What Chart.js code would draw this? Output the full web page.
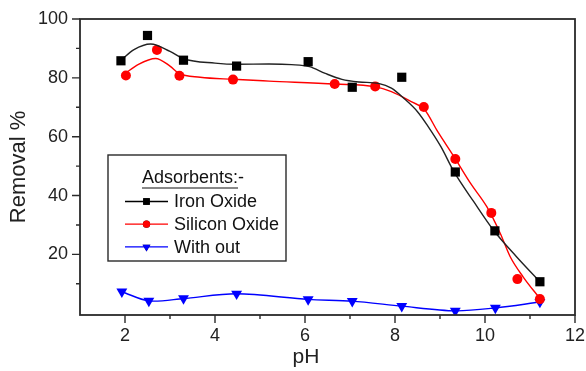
<!DOCTYPE html>
<html>
<head>
<meta charset="utf-8">
<script src="https://cdn.jsdelivr.net/npm/chart.js@4/dist/chart.umd.min.js"></script>
<style>
  html, body { margin: 0; padding: 0; background: #fff; }
  #wrap { width: 586px; height: 371px; }
</style>
</head>
<body>
<div id="wrap"><canvas id="removalChart"></canvas></div>
<script>
// measured points
const ironPH = [1.91, 2.5, 3.3, 4.48, 6.07, 7.05, 8.15, 9.34, 10.22, 11.22]
const ironRemoval = [85.8, 94.4, 86.0, 84.0, 85.5, 76.8, 80.2, 48.0, 28.0, 10.7]

const siliconPH = [2.02, 2.71, 3.21, 4.4, 6.66, 7.56, 8.64, 9.34, 10.14, 10.72, 11.22]
const siliconRemoval = [80.8, 89.5, 80.7, 79.4, 77.9, 77.1, 70.1, 52.4, 34.1, 11.6, 4.8]

const withoutPH = [1.93, 2.53, 3.3, 4.48, 6.07, 7.05, 8.15, 9.34, 10.23, 11.22]
const withoutRemoval = [7.3, 4.2, 5.0, 6.6, 4.7, 4.1, 2.4, 0.8, 1.8, 3.8]

// smoothed fit curves
const ironFitPH = [1.91, 2.2, 2.57, 3.0, 3.3, 4.0, 4.5, 5.2, 5.7, 6.1, 6.45, 6.82, 7.2, 7.63, 7.92, 8.2, 8.5, 8.73, 9.02, 9.31, 9.75, 10.19, 10.7, 11.22]
const ironFitRemoval = [86.0, 89.6, 91.5, 89.0, 86.5, 85.0, 84.6, 84.7, 84.5, 83.8, 81.5, 79.5, 78.6, 78.1, 76.5, 73.0, 68.5, 63.6, 56.6, 48.1, 37.9, 28.2, 19.2, 10.7]

const siliconFitPH = [1.98, 2.3, 2.68, 3.0, 3.2, 3.67, 4.4, 5.2, 6.67, 7.55, 7.92, 8.36, 8.65, 8.95, 9.31, 9.68, 10.04, 10.34, 10.56, 10.85, 11.22]
const siliconFitRemoval = [81.2, 84.6, 86.6, 84.0, 81.5, 80.2, 79.5, 78.9, 77.9, 77.0, 75.3, 71.9, 69.3, 61.7, 53.2, 44.1, 36.2, 27.1, 19.2, 12.3, 5.0]

const xTicks = [2, 3, 4, 5, 6, 7, 8, 9, 10, 11, 12]
const yTicks = [10, 20, 30, 40, 50, 60, 70, 80, 90, 100]

const xTitle = 'pH'
const legendTitle = 'Adsorbents:-'
const legendNames = ['Iron Oxide', 'Silicon Oxide', 'With out']

const toXY = (xs, ys) => xs.map((x, i) => ({ x, y: ys[i] }))

const FONT = 'Arial, "Liberation Sans", sans-serif'

// box round the plot plus outside tick marks (long major, short minor)
const frame = {
    id: 'frame',
    afterDraw(chart) {
        const { ctx, chartArea: a, scales } = chart
        ctx.save()
        ctx.strokeStyle = '#2a2a2a'
        ctx.lineWidth = 1.8
        ctx.strokeRect(a.left, a.top, a.right - a.left, a.bottom - a.top)

        ctx.lineWidth = 1.4
        ctx.beginPath()
        xTicks.forEach(v => {
            const px = scales.x.getPixelForValue(v)
            const len = v % 2 === 0 ? 8 : 4
            ctx.moveTo(px, a.bottom)
            ctx.lineTo(px, a.bottom + len)
        })
        yTicks.forEach(v => {
            const py = scales.y.getPixelForValue(v)
            const len = v % 20 === 0 ? 8 : 4
            ctx.moveTo(a.left, py)
            ctx.lineTo(a.left - len, py)
        })
        ctx.stroke()

        // x title sits a bit left of centre in the original
        ctx.fillStyle = '#222'
        ctx.font = '21px ' + FONT
        ctx.textAlign = 'center'
        ctx.textBaseline = 'middle'
        ctx.fillText(xTitle, 306, 357)
        ctx.restore()
    }
}

const boxLegend = {
    id: 'boxLegend',
    afterDraw(chart) {
        const ctx = chart.ctx
        const bx = 108, by = 155, bw = 178, bh = 106
        ctx.save()
        ctx.fillStyle = '#fff'
        ctx.fillRect(bx, by, bw, bh)
        ctx.strokeStyle = '#2a2a2a'
        ctx.lineWidth = 1.4
        ctx.strokeRect(bx, by, bw, bh)

        ctx.fillStyle = '#111'
        ctx.font = '18px ' + FONT
        ctx.textBaseline = 'middle'
        ctx.textAlign = 'left'
        const tx = 142, ty = 178
        ctx.fillText(legendTitle, tx, ty)
        const uw = ctx.measureText('Adsorbents:').width
        ctx.beginPath()
        ctx.moveTo(tx, ty + 10)
        ctx.lineTo(tx + uw, ty + 10)
        ctx.lineWidth = 1.2
        ctx.strokeStyle = '#111'
        ctx.stroke()

        const markerSets = [0, 2, 4]
        legendNames.forEach((name, i) => {
            const ds = chart.data.datasets[markerSets[i]]
            const y = 201.5 + i * 22.7
            ctx.beginPath()
            ctx.strokeStyle = ds.borderColor
            ctx.lineWidth = 1.3
            ctx.moveTo(125, y)
            ctx.lineTo(168, y)
            ctx.stroke()
            Chart.helpers.drawPoint(ctx, {
                pointStyle: ds.pointStyle,
                rotation: ds.pointRotation || 0,
                radius: ds.pointRadius * 0.72,
                borderWidth: 0
            }, 146.5, y)
            ctx.fillStyle = ds.pointBackgroundColor
            ctx.fill()
            ctx.fillStyle = '#111'
            ctx.fillText(name, 174, y + 1)
        })
        ctx.restore()
    }
}

new Chart('removalChart', {
    type: 'scatter',
    data: {
        datasets: [
            {
                label: 'Iron Oxide',
                data: toXY(ironPH, ironRemoval),
                showLine: false,
                pointStyle: 'rect',
                pointRadius: 6.5,
                borderColor: '#000',
                pointBackgroundColor: '#000',
                pointBorderWidth: 0
            },
            {
                label: 'Iron Oxide fit',
                data: toXY(ironFitPH, ironFitRemoval),
                showLine: true,
                pointRadius: 0,
                borderColor: '#222',
                borderWidth: 1.4,
                cubicInterpolationMode: 'monotone'
            },
            {
                label: 'Silicon Oxide',
                data: toXY(siliconPH, siliconRemoval),
                showLine: false,
                pointStyle: 'circle',
                pointRadius: 5,
                borderColor: '#ff0000',
                pointBackgroundColor: '#ff0000',
                pointBorderWidth: 0
            },
            {
                label: 'Silicon Oxide fit',
                data: toXY(siliconFitPH, siliconFitRemoval),
                showLine: true,
                pointRadius: 0,
                borderColor: '#ff0000',
                borderWidth: 1.4,
                cubicInterpolationMode: 'monotone'
            },
            {
                label: 'With out',
                data: toXY(withoutPH, withoutRemoval),
                showLine: true,
                tension: 0.3,
                pointStyle: 'triangle',
                pointRotation: 180,
                pointRadius: 6.3,
                borderColor: '#0000ff',
                borderWidth: 1.4,
                pointBackgroundColor: '#0000ff',
                pointBorderWidth: 0
            }
        ]
    },
    options: {
        responsive: true,
        maintainAspectRatio: false,
        animation: false,
        layout: { padding: { left: 0, right: 11, top: 19, bottom: 0 } },
        plugins: {
            legend: { display: false },
            tooltip: { enabled: false }
        },
        scales: {
            x: {
                type: 'linear',
                min: 1,
                max: 12,
                afterBuildTicks: s => { s.ticks = xTicks.map(v => ({ value: v })) },
                afterFit: s => {
                    s.height = 56
                    s.paddingLeft = 0
                    s.paddingRight = 0
                },
                grid: { display: true, drawOnChartArea: false, drawTicks: false },
                border: { display: false },
                ticks: {
                    color: '#222',
                    font: { family: FONT, size: 18 },
                    padding: 10,
                    maxRotation: 0,
                    autoSkip: false,
                    callback: v => (v % 2 === 0 ? v : '')
                },
                title: { display: false }
            },
            y: {
                min: -0.6,
                max: 100,
                afterBuildTicks: s => { s.ticks = yTicks.map(v => ({ value: v })) },
                afterFit: s => {
                    s.width = 80
                    s.paddingTop = 0
                    s.paddingBottom = 0
                },
                grid: { display: true, drawOnChartArea: false, drawTicks: false },
                border: { display: false },
                ticks: {
                    color: '#222',
                    font: { family: FONT, size: 18 },
                    padding: 12,
                    autoSkip: false,
                    callback: v => (v % 20 === 0 ? v : '')
                },
                title: {
                    display: true,
                    text: 'Removal %',
                    color: '#222',
                    font: { family: FONT, size: 22 },
                    padding: { top: 6, bottom: 0 }
                }
            }
        }
    },
    plugins: [frame, boxLegend]
})
</script>
</body>
</html>
